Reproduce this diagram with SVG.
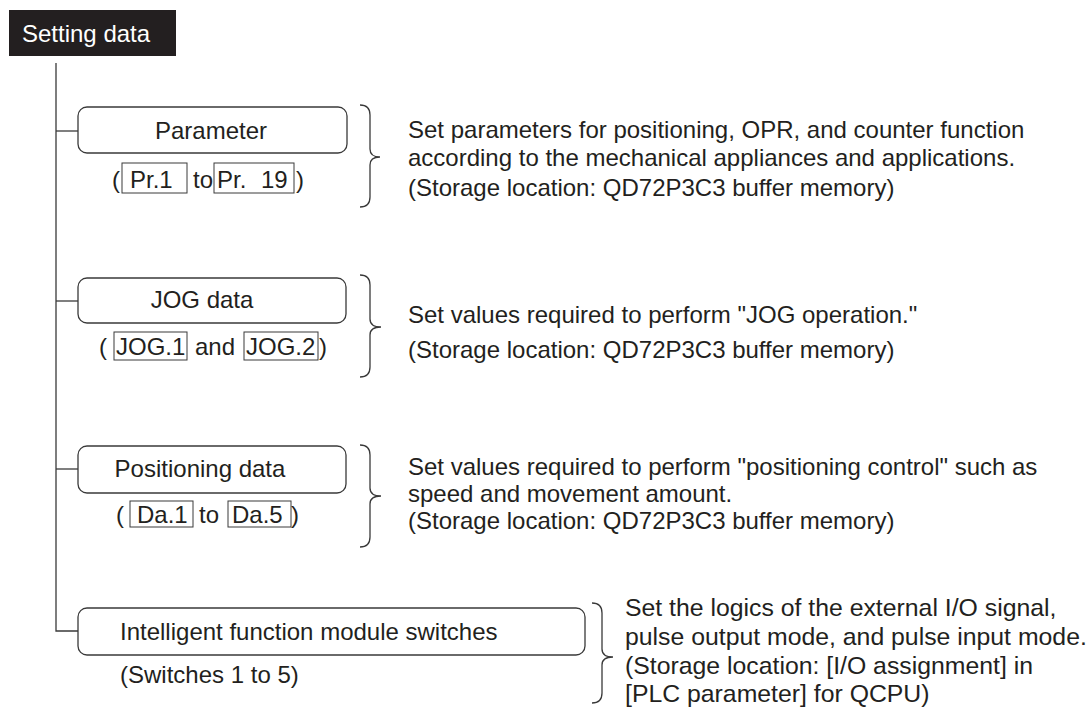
<svg xmlns="http://www.w3.org/2000/svg" width="1087" height="709" viewBox="0 0 1087 709">
<style>
text{font-family:"Liberation Sans",Arial,sans-serif;font-size:24px;fill:#231f20}
.hd{fill:#ffffff}
.big{font-size:24.8px}
.box{fill:none;stroke:#3a3a3a;stroke-width:1.3}
.ref{fill:none;stroke:#3a3a3a;stroke-width:1}
.ln{fill:none;stroke:#3a3a3a;stroke-width:1.3}
.mid{text-anchor:middle}
</style>
<rect width="1087" height="709" fill="#ffffff"/>
<g id="header">
<rect x="9" y="10" width="167" height="46" fill="#231f20"/>
<text class="hd" x="22" y="42">Setting data</text>
</g>
<g id="connectors">
<path class="ln" d="M56,63 V631 H78"/>
<path class="ln" d="M56,131 H78"/>
<path class="ln" d="M56,301 H78"/>
<path class="ln" d="M56,469 H78"/>
<path class="ln" d="M360,105 Q370,105 370,115 V149 Q370,157 380,157 Q370,157 370,165 V197 Q370,207 360,207"/>
<path class="ln" d="M360,275 Q370,275 370,285 V319 Q370,327 381,327 Q370,327 370,335 V367 Q370,377 360,377"/>
<path class="ln" d="M360,445 Q370,445 370,455 V488 Q370,496 381,496 Q370,496 370,504 V537 Q370,547 360,547"/>
<path class="ln" d="M592,603 Q602,603 602,613 V649 Q602,657 613,657 Q602,657 602,665 V693 Q602,703 592,703"/>
</g>
<g id="parameter">
<rect class="box" x="78" y="107" width="269" height="46" rx="9"/>
<text class="mid" x="211" y="139">Parameter</text>
<text x="112" y="188">(</text>
<rect class="ref" x="122" y="163" width="65" height="30"/>
<text x="130" y="188">Pr.1</text>
<text x="193" y="188">to</text>
<rect class="ref" x="214" y="163" width="80" height="30"/>
<text x="217" y="188">Pr.<tspan dx="8"> 19</tspan></text>
<text x="296" y="188">)</text>
<text x="408" y="138">Set parameters for positioning, OPR, and counter function</text>
<text x="408" y="166">according to the mechanical appliances and applications.</text>
<text x="408" y="196">(Storage location: QD72P3C3 buffer memory)</text>
</g>
<g id="jog">
<rect class="box" x="78" y="278" width="268" height="45" rx="9"/>
<text class="mid" x="202" y="308">JOG data</text>
<text x="99" y="355">(</text>
<rect class="ref" x="114" y="332" width="73" height="28"/>
<text x="116" y="355">JOG.1</text>
<text x="195" y="355">and</text>
<rect class="ref" x="244" y="332" width="74" height="28"/>
<text x="246" y="355">JOG.2</text>
<text x="319" y="355">)</text>
<text x="408" y="323">Set values required to perform "JOG operation."</text>
<text x="408" y="358">(Storage location: QD72P3C3 buffer memory)</text>
</g>
<g id="positioning">
<rect class="box" x="78" y="446" width="268" height="47" rx="9"/>
<text class="mid" x="200" y="477">Positioning data</text>
<text x="116" y="523">(</text>
<rect class="ref" x="130" y="501" width="63" height="26"/>
<text x="137" y="523">Da.1</text>
<text x="199" y="523">to</text>
<rect class="ref" x="228" y="501" width="63" height="26"/>
<text x="232" y="523">Da.5</text>
<text x="291" y="523">)</text>
<text x="408" y="475">Set values required to perform "positioning control" such as</text>
<text x="408" y="502">speed and movement amount.</text>
<text x="408" y="529">(Storage location: QD72P3C3 buffer memory)</text>
</g>
<g id="switches">
<rect class="box" x="78" y="608" width="507" height="47" rx="9"/>
<text x="120" y="640">Intelligent function module switches</text>
<text x="120" y="683">(Switches 1 to 5)</text>
<text class="big" x="625" y="616">Set the logics of the external I/O signal,</text>
<text class="big" x="625" y="645">pulse output mode, and pulse input mode.</text>
<text class="big" x="625" y="674">(Storage location: [I/O assignment] in</text>
<text class="big" x="625" y="702">[PLC parameter] for QCPU)</text>
</g>
</svg>
